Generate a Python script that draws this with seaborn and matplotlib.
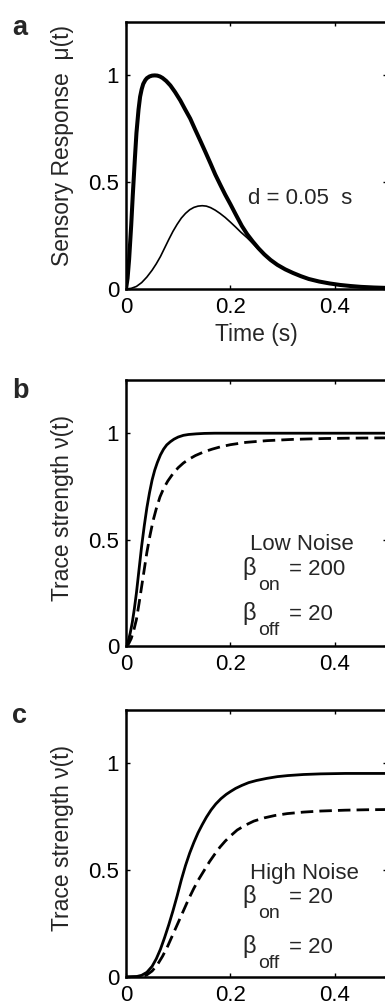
import matplotlib
matplotlib.use("Agg")
import matplotlib.pyplot as plt
import seaborn as sns

# ---- 데이터 ----
# a: sensory response (굵은 선 / 가는 선)
a_t_thick = [0, 0.003, 0.006, 0.01, 0.013, 0.017, 0.02, 0.024, 0.027, 0.03, 0.033,
             0.037, 0.04, 0.045, 0.05, 0.055, 0.06, 0.065, 0.07, 0.077, 0.085,
             0.094, 0.104, 0.113, 0.123, 0.132, 0.142, 0.152, 0.162, 0.171, 0.181,
             0.19, 0.2, 0.21, 0.222, 0.232, 0.243, 0.254, 0.265, 0.277, 0.29,
             0.305, 0.32, 0.335, 0.35, 0.37, 0.39, 0.41, 0.43, 0.45, 0.475, 0.5]
a_v_thick = [0, 0.05, 0.14, 0.3, 0.44, 0.61, 0.73, 0.84, 0.9, 0.935, 0.96,
             0.978, 0.987, 0.995, 0.999, 1.0, 0.999, 0.995, 0.988, 0.974, 0.953,
             0.922, 0.883, 0.842, 0.798, 0.749, 0.696, 0.642, 0.587, 0.536, 0.486,
             0.442, 0.397, 0.35, 0.295, 0.257, 0.222, 0.19, 0.162, 0.136, 0.113,
             0.092, 0.075, 0.06, 0.047, 0.035, 0.026, 0.019, 0.014, 0.01, 0.007, 0.005]
a_t_thin = [0, 0.01, 0.02, 0.03, 0.04, 0.05, 0.058, 0.066, 0.074, 0.082, 0.09,
            0.098, 0.106, 0.114, 0.122, 0.13, 0.138, 0.146, 0.154, 0.162, 0.171,
            0.18, 0.19, 0.2, 0.21, 0.22, 0.232, 0.243, 0.254, 0.265, 0.277, 0.29,
            0.305, 0.32, 0.335, 0.35, 0.37, 0.39, 0.41, 0.43, 0.45, 0.475, 0.5]
a_v_thin = [0, 0.003, 0.012, 0.03, 0.056, 0.088, 0.118, 0.152, 0.192, 0.232, 0.27,
            0.303, 0.332, 0.354, 0.371, 0.382, 0.388, 0.39, 0.388, 0.381, 0.369,
            0.354, 0.335, 0.313, 0.29, 0.266, 0.24, 0.213, 0.185, 0.158, 0.134, 0.112,
            0.091, 0.074, 0.059, 0.046, 0.034, 0.025, 0.018, 0.013, 0.0095, 0.0065, 0.0045]

# b: low noise (실선 / 점선)
b_t_solid = [0, 0.004, 0.008, 0.012, 0.016, 0.02, 0.025, 0.03, 0.035, 0.04, 0.045,
             0.05, 0.055, 0.06, 0.066, 0.072, 0.078, 0.085, 0.092, 0.1, 0.11, 0.12,
             0.135, 0.15, 0.17, 0.2, 0.25, 0.3, 0.4, 0.5]
b_v_solid = [0, 0.02, 0.06, 0.11, 0.175, 0.25, 0.36, 0.47, 0.565, 0.65, 0.72,
             0.78, 0.826, 0.862, 0.898, 0.925, 0.945, 0.96, 0.972, 0.982, 0.99, 0.994,
             0.997, 0.999, 1.0, 1.0, 1.0, 1.0, 1.0, 1.0]
b_t_dash = [0, 0.005, 0.01, 0.015, 0.02, 0.025, 0.03, 0.035, 0.04, 0.046, 0.052,
            0.058, 0.065, 0.072, 0.08, 0.09, 0.1, 0.11, 0.12, 0.133, 0.149, 0.165,
            0.181, 0.2, 0.23, 0.27, 0.32, 0.38, 0.44, 0.5]
b_v_dash = [0, 0.01, 0.035, 0.075, 0.125, 0.2, 0.28, 0.36, 0.44, 0.52, 0.59,
            0.645, 0.7, 0.74, 0.775, 0.81, 0.838, 0.86, 0.877, 0.895, 0.912, 0.925,
            0.936, 0.946, 0.957, 0.965, 0.971, 0.975, 0.977, 0.978]

# c: high noise (실선 / 점선)
c_t_solid = [0, 0.02, 0.03, 0.04, 0.05, 0.058, 0.066, 0.074, 0.082, 0.09, 0.098,
             0.106, 0.114, 0.122, 0.13, 0.138, 0.146, 0.154, 0.163, 0.172, 0.182,
             0.192, 0.2, 0.21, 0.222, 0.235, 0.25, 0.27, 0.29, 0.31, 0.34, 0.373,
             0.42, 0.46, 0.5]
c_v_solid = [0, 0.002, 0.008, 0.022, 0.05, 0.085, 0.13, 0.185, 0.245, 0.31, 0.38,
             0.455, 0.522, 0.58, 0.63, 0.675, 0.713, 0.748, 0.782, 0.81, 0.835,
             0.855, 0.868, 0.883, 0.897, 0.91, 0.92, 0.93, 0.938, 0.943, 0.948, 0.951,
             0.953, 0.953, 0.953]
c_t_dash = [0, 0.03, 0.04, 0.05, 0.06, 0.07, 0.08, 0.09, 0.1, 0.11, 0.12, 0.13,
            0.14, 0.15, 0.16, 0.17, 0.18, 0.19, 0.2, 0.213, 0.228, 0.245, 0.265,
            0.285, 0.309, 0.34, 0.373, 0.42, 0.46, 0.5]
c_v_dash = [0, 0.002, 0.01, 0.028, 0.057, 0.097, 0.145, 0.2, 0.255, 0.31, 0.365,
            0.415, 0.46, 0.5, 0.54, 0.575, 0.608, 0.636, 0.66, 0.688, 0.71, 0.73,
            0.745, 0.756, 0.765, 0.772, 0.777, 0.781, 0.783, 0.784]

x_ticks = [0, 0.2, 0.4]
x_ticklabels = ["0", "0.2", "0.4"]
y_ticks = [0, 0.5, 1]
y_ticklabels = ["0", "0.5", "1"]

panel_letters = ["a", "b", "c"]
y_labels = ["Sensory Response  μ(t)", "Trace strength ν(t)", "Trace strength ν(t)"]
noise_titles = ["Low Noise", "High Noise"]
beta_on = ["200", "20"]
beta_off = ["20", "20"]

# ---- 스타일 ----
sns.set_theme(style="ticks")
plt.rcParams["font.family"] = ["Liberation Sans", "DejaVu Sans"]

fig = plt.figure(figsize=(3.85, 10.06), dpi=100)

# 축 위치 (픽셀 기준)
W, H = 385.0, 1006.0
left, right = 126, 387
tops = [22, 380, 710]
bottoms = [289, 646, 977]
label_y = [0.536, 0.519, 0.52]
letter_base = [35, 398, 723]

axes = []
for i in range(3):
    ax = fig.add_axes([left / W, 1 - bottoms[i] / H,
                       (right - left) / W, (bottoms[i] - tops[i]) / H])
    axes.append(ax)

dash = (0, (4.5, 2.2))

sns.lineplot(x=a_t_thick, y=a_v_thick, ax=axes[0], color="black", lw=2.9,
             estimator=None, sort=False)
sns.lineplot(x=a_t_thin, y=a_v_thin, ax=axes[0], color="black", lw=1.2,
             estimator=None, sort=False)

sns.lineplot(x=b_t_solid, y=b_v_solid, ax=axes[1], color="black", lw=2.0,
             estimator=None, sort=False)
sns.lineplot(x=b_t_dash, y=b_v_dash, ax=axes[1], color="black", lw=2.0,
             linestyle=dash, estimator=None, sort=False)

sns.lineplot(x=c_t_solid, y=c_v_solid, ax=axes[2], color="black", lw=2.0,
             estimator=None, sort=False)
sns.lineplot(x=c_t_dash, y=c_v_dash, ax=axes[2], color="black", lw=2.0,
             linestyle=dash, estimator=None, sort=False)

for i, ax in enumerate(axes):
    ax.set_xlim(0, 0.5)
    ax.set_ylim(0, 1.25)
    ax.set_xticks(x_ticks)
    ax.set_xticklabels(x_ticklabels)
    ax.set_yticks(y_ticks)
    ax.set_yticklabels(y_ticklabels)
    for s in ax.spines.values():
        s.set_visible(True)
        s.set_linewidth(1.8)
        s.set_color("black")
    ax.tick_params(direction="in", length=3, width=1, colors="black",
                   top=True, right=True, labelsize=16)
    ax.tick_params(axis="x", pad=6)
    ax.tick_params(axis="y", pad=5)
    ax.set_ylabel(y_labels[i], fontsize=16.5, va="center")
    ax.yaxis.set_label_coords(-63 / (right - left), label_y[i])
    ax.set_xlabel("")
    fig.text(12 / W, 1 - letter_base[i] / H, panel_letters[i], fontsize=19.5,
             fontweight="bold", ha="left", va="baseline")

axes[0].set_xlabel("Time (s)", fontsize=16.5, labelpad=3)

# 주석
axes[0].text(0.2346, 0.40, "d = 0.05  s", fontsize=16, ha="left", va="baseline")


def beta_text(ax, y_base, sub, value):
    # β, 아래첨자, 값 따로 그림
    ax.text(0.2225, y_base, "β", fontsize=17, ha="left", va="baseline")
    ax.text(0.2525, y_base - 0.07, sub, fontsize=14, ha="left", va="baseline")
    ax.text(0.312, y_base, "= " + value, fontsize=16, ha="left", va="baseline")


# b
axes[1].text(0.336, 0.451, noise_titles[0], fontsize=16, ha="center", va="baseline")
beta_text(axes[1], 0.333, "on", beta_on[0])
beta_text(axes[1], 0.122, "off", beta_off[0])

# c
axes[2].text(0.342, 0.461, noise_titles[1], fontsize=16, ha="center", va="baseline")
beta_text(axes[2], 0.346, "on", beta_on[1])
beta_text(axes[2], 0.114, "off", beta_off[1])

fig.savefig("out.png", dpi=100)
